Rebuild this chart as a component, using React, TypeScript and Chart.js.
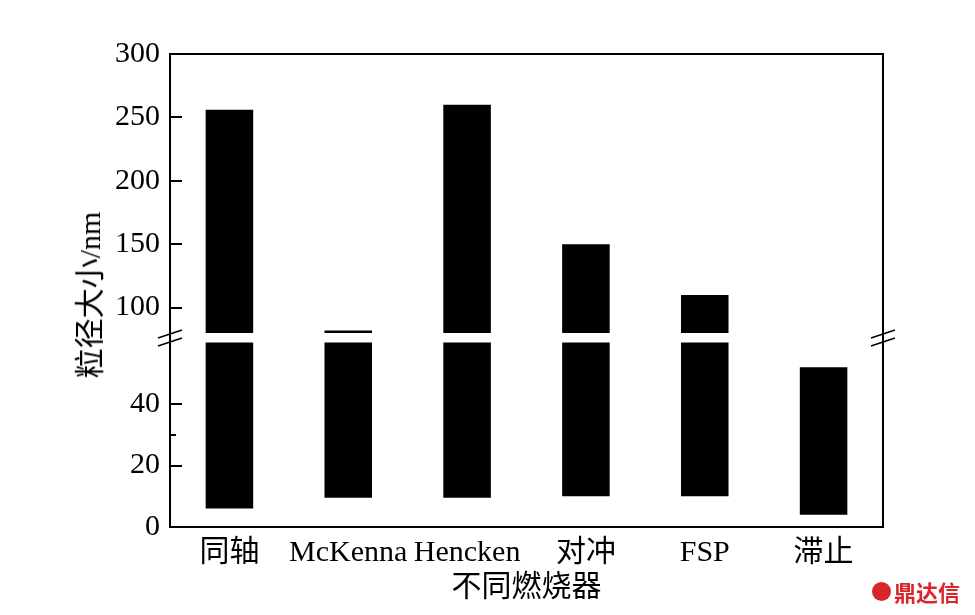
import { useEffect, useRef } from "react";
import { Chart, registerables, type ChartConfiguration, type Plugin } from "chart.js";

Chart.register(...registerables);

const burners = ["同轴", "McKenna", "Hencken", "对冲", "FSP", "滞止"];
const sizeLow = [6, 9.5, 9.5, 10, 10, 4];
const sizeHigh = [256, 82, 260, 150, 110, 52];
const lowerTicks = [0, 20, 40];
const lowerMinorTicks = [30];
const upperTicks = [100, 150, 200, 250, 300];
const breakFrom = 60; // lower segment ends
const breakTo = 80; // upper segment starts
const upperMax = 300;

const FONT = '"Liberation Serif", "Noto Sans CJK SC", serif';
const INK = "#000";

const upperData = sizeHigh.map((hi, i) =>
  hi > breakTo ? [Math.max(sizeLow[i], breakTo), hi] : null
);
const lowerData = sizeLow.map((lo, i) => [lo, Math.min(sizeHigh[i], breakFrom)]);

// right (and top) spine, plus inward tick marks on the y axis
function framePlugin(drawTop: boolean, minor: number[]): Plugin<"bar"> {
  return {
    id: "frame",
    afterDraw(chart) {
      const { ctx, chartArea: a } = chart;
      const ys = chart.scales.y;
      ctx.save();
      ctx.strokeStyle = INK;
      ctx.lineWidth = 2;
      ctx.beginPath();
      ctx.moveTo(a.right, a.bottom);
      ctx.lineTo(a.right, a.top);
      if (drawTop) ctx.lineTo(a.left - 1, a.top);
      ctx.stroke();

      ctx.beginPath();
      for (const t of ys.ticks) {
        const py = Math.round(ys.getPixelForValue(t.value));
        ctx.moveTo(a.left, py);
        ctx.lineTo(a.left + 12, py);
      }
      for (const v of minor) {
        const py = Math.round(ys.getPixelForValue(v));
        ctx.moveTo(a.left, py);
        ctx.lineTo(a.left + 6, py);
      }
      ctx.stroke();
      ctx.restore();
    },
  };
}

// break marks on both spines
const breakPlugin: Plugin<"bar"> = {
  id: "axisBreak",
  afterDraw(chart) {
    const { ctx, chartArea: a } = chart;
    ctx.save();
    ctx.strokeStyle = INK;
    ctx.lineWidth = 1.6;
    for (const x of [a.left, a.right]) {
      for (const dy of [-4, 4]) {
        ctx.beginPath();
        ctx.moveTo(x - 12, a.top + dy + 4);
        ctx.lineTo(x + 12, a.top + dy - 4);
        ctx.stroke();
      }
    }
    ctx.restore();
  },
};

const yAxisCommon = {
  afterFit: (s: any) => {
    s.width = 170;
    s.paddingTop = 0;
    s.paddingBottom = 0;
  },
  grid: { drawOnChartArea: false, drawTicks: false },
  border: { color: INK, width: 2 },
  ticks: { font: { family: FONT, size: 30 }, color: INK, padding: 10 },
};

function makeUpper(): ChartConfiguration<"bar"> {
  return {
    type: "bar",
    data: {
      labels: burners,
      datasets: [
        {
          data: upperData as any,
          backgroundColor: INK,
          borderWidth: 0,
          barPercentage: 0.4,
          categoryPercentage: 1,
        },
      ],
    },
    options: {
      responsive: false,
      animation: false,
      layout: { padding: { top: 54, right: 92, left: 0, bottom: 0 } },
      plugins: { legend: { display: false }, tooltip: { enabled: false } },
      scales: {
        x: { display: false },
        y: {
          ...yAxisCommon,
          min: breakTo - 4,
          max: upperMax,
          afterBuildTicks: (s: any) => {
            s.ticks = upperTicks.map((value) => ({ value }));
          },
        } as any,
      },
    },
    plugins: [framePlugin(true, [])],
  };
}

function makeLower(): ChartConfiguration<"bar"> {
  return {
    type: "bar",
    data: {
      labels: burners,
      datasets: [
        {
          data: lowerData as any,
          backgroundColor: INK,
          borderWidth: 0,
          barPercentage: 0.4,
          categoryPercentage: 1,
        },
      ],
    },
    options: {
      responsive: false,
      animation: false,
      layout: { padding: { top: 18, right: 92, left: 0, bottom: 0 } },
      plugins: { legend: { display: false }, tooltip: { enabled: false } },
      scales: {
        x: {
          afterFit: (s: any) => {
            s.height = 88;
            s.paddingLeft = 0;
            s.paddingRight = 0;
          },
          grid: { drawOnChartArea: false, drawTicks: false },
          border: { color: INK, width: 2 },
          ticks: {
            font: { family: FONT, size: 30 },
            color: INK,
            padding: 8,
            maxRotation: 0,
            minRotation: 0,
            autoSkip: false,
          },
          title: {
            display: true,
            text: "不同燃烧器",
            color: INK,
            font: { family: FONT, size: 30 },
            padding: { top: 0, bottom: 9 },
          },
        },
        y: {
          ...yAxisCommon,
          min: 0,
          max: breakFrom + 1.5,
          afterBuildTicks: (s: any) => {
            s.ticks = lowerTicks.map((value) => ({ value }));
          },
        } as any,
      },
    },
    plugins: [framePlugin(false, lowerMinorTicks), breakPlugin],
  };
}

export default function App() {
  const upperRef = useRef<HTMLCanvasElement>(null);
  const lowerRef = useRef<HTMLCanvasElement>(null);

  useEffect(() => {
    if (!upperRef.current || !lowerRef.current) return;
    const upper = new Chart(upperRef.current, makeUpper());
    const lower = new Chart(lowerRef.current, makeLower());
    return () => {
      upper.destroy();
      lower.destroy();
    };
  }, []);

  return (
    <div
      style={{
        position: "absolute",
        left: 0,
        top: 0,
        width: 975,
        height: 615,
        background: "#fff",
        overflow: "hidden",
      }}
    >
      <canvas
        ref={upperRef}
        width={975}
        height={338}
        style={{ position: "absolute", left: 0, top: 0, width: 975, height: 338 }}
      />
      <canvas
        ref={lowerRef}
        width={975}
        height={295}
        style={{ position: "absolute", left: 0, top: 320, width: 975, height: 295 }}
      />
      <div
        style={{
          position: "absolute",
          left: 90,
          top: 295,
          transform: "translate(-50%, -50%) rotate(-90deg)",
          fontFamily: FONT,
          fontSize: 30,
          whiteSpace: "nowrap",
          color: INK,
          lineHeight: 1,
        }}
      >
        粒径大小/nm
      </div>
      <div
        style={{
          position: "absolute",
          left: 872,
          top: 580,
          display: "flex",
          alignItems: "center",
          gap: 3,
          color: "#d8262c",
          fontFamily: '"Noto Sans CJK SC", sans-serif',
          fontWeight: 700,
          fontSize: 22,
          lineHeight: 1,
        }}
      >
        <span
          style={{
            display: "inline-block",
            width: 19,
            height: 19,
            borderRadius: "50%",
            background: "#d8262c",
          }}
        />
        鼎达信
      </div>
    </div>
  );
}
